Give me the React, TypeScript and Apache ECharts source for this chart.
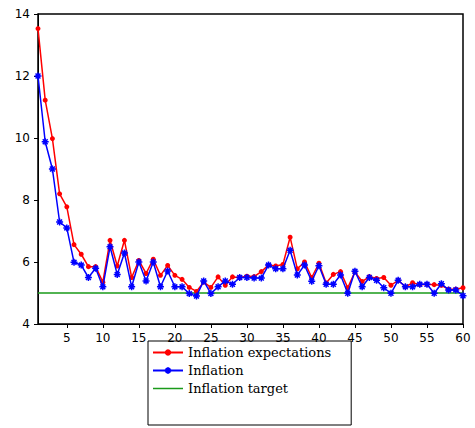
import React, { useEffect, useRef } from "react";
import * as echarts from "echarts";

const periods = Array.from({ length: 60 }, (_, i) => i + 1);
const expectations = [13.53, 11.22, 9.98, 8.2, 7.78, 6.56, 6.25, 5.85, 5.85, 5.35, 6.7, 5.87, 6.7, 5.5, 6.05, 5.63, 6.09, 5.57, 5.89, 5.57, 5.44, 5.18, 5.05, 5.35, 5.18, 5.52, 5.25, 5.52, 5.5, 5.54, 5.53, 5.69, 5.9, 5.87, 5.92, 6.8, 5.78, 6.0, 5.5, 5.96, 5.32, 5.6, 5.69, 5.17, 5.68, 5.37, 5.53, 5.47, 5.5, 5.25, 5.41, 5.2, 5.33, 5.27, 5.28, 5.27, 5.25, 5.12, 5.12, 5.17];
const inflation = [12.0, 9.88, 9.0, 7.29, 7.1, 5.99, 5.9, 5.5, 5.8, 5.2, 6.49, 5.6, 6.29, 5.2, 6.0, 5.39, 6.0, 5.2, 5.71, 5.2, 5.2, 4.98, 4.9, 5.39, 4.98, 5.2, 5.39, 5.28, 5.5, 5.5, 5.48, 5.48, 5.9, 5.78, 5.78, 6.38, 5.58, 5.9, 5.38, 5.88, 5.28, 5.28, 5.58, 4.99, 5.7, 5.2, 5.5, 5.41, 5.17, 4.99, 5.41, 5.2, 5.2, 5.28, 5.28, 4.99, 5.3, 5.1, 5.1, 4.91];
const target = 5;
const xTicks = [5, 10, 15, 20, 25, 30, 35, 40, 45, 50, 55, 60];

const star = "path://M0,-10L0,10M-10,0L10,0M-7,-7L7,7M-7,7L7,-7";

export default function App() {
  const ref = useRef<HTMLDivElement>(null);
  useEffect(() => {
    const chart = echarts.init(ref.current!, null, { renderer: "svg" });
    const lbl = { color: "#000", fontFamily: "DejaVu Sans", fontSize: 12 };
    chart.setOption({
      animation: false,
      grid: { left: 38, right: 12, top: 14, bottom: 104, show: true, borderColor: "#000", borderWidth: 1.5 },
      xAxis: {
        type: "value", min: 1, max: 60,
        axisLine: { lineStyle: { color: "#000" } },
        axisTick: { customValues: xTicks, length: 4, inside: false },
        axisLabel: { ...lbl, customValues: xTicks },
        splitLine: { show: false },
      },
      yAxis: {
        type: "value", min: 4, max: 14, interval: 2,
        axisLine: { show: true, lineStyle: { color: "#000" } },
        axisTick: { show: true, length: 4 },
        axisLabel: lbl,
        splitLine: { show: false },
      },
      legend: {
        orient: "vertical", left: 148, top: 341,
        borderColor: "#000", borderWidth: 1, padding: [5, 20, 30, 4],
        itemWidth: 30, itemHeight: 8, itemGap: 5,
        textStyle: { fontFamily: "DejaVu Serif", fontSize: 13, color: "#000" },
        data: [
          "Inflation expectations",
          "Inflation",
          { name: "Inflation target", icon: "path://M0,0L30,0L30,1.5L0,1.5Z", itemStyle: { color: "#1a9a1a" } },
        ],
      },
      series: [
        {
          name: "Inflation target", type: "line", data: periods.map((p) => [p, target]),
          showSymbol: false, symbol: "none", lineStyle: { color: "#1a9a1a", width: 1.5 }, itemStyle: { color: "#1a9a1a" }, z: 1,
        },
        {
          name: "Inflation expectations", type: "line", data: periods.map((p, i) => [p, expectations[i]]),
          symbol: "circle", symbolSize: 5, lineStyle: { color: "#ff0000", width: 1.5 }, itemStyle: { color: "#ff0000" }, z: 2,
        },
        {
          name: "Inflation", type: "line", data: periods.map((p, i) => [p, inflation[i]]),
          symbol: star, symbolSize: 7, lineStyle: { color: "#0000ff", width: 1.5 },
          itemStyle: { color: "#0000ff", borderColor: "#0000ff", borderWidth: 1.5 }, z: 3,
        },
      ],
    });
    return () => chart.dispose();
  }, []);
  return <div ref={ref} style={{ width: 475, height: 428, position: "absolute", left: 0, top: 0, background: "#fff" }} />;
}
